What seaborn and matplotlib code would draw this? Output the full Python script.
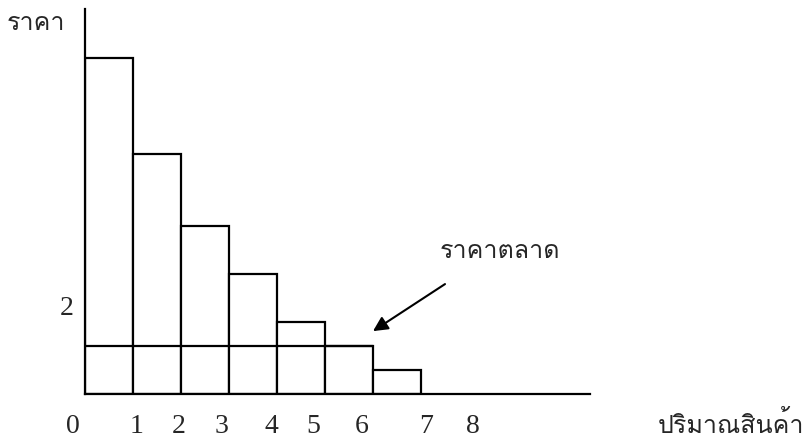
import matplotlib
matplotlib.use("Agg")
import matplotlib.pyplot as plt
from matplotlib import font_manager
from matplotlib.ft2font import FT2Font
import seaborn as sns

# ข้อมูลของกราฟ
bar_mid = [0.5, 1.5, 2.5, 3.5, 4.5, 5.5, 6.5]
bar_price = [14, 10, 7, 5, 3, 2, 1]
market_x = [0, 6]
market_price = [2, 2]
tick_pos = [-0.25, 1.08, 1.96, 2.85, 3.88, 4.75, 5.77, 7.1, 8.08]
tick_labels = ["0", "1", "2", "3", "4", "5", "6", "7", "8"]


def thai_font():
    # หา font ที่มีตัวอักษรไทย
    for f in font_manager.fontManager.ttflist:
        try:
            if ord("ร") in FT2Font(f.fname).get_charmap():
                return f.name
        except Exception:
            pass
    return "DejaVu Sans"


sns.set_theme(style="white")
th = [thai_font(), "DejaVu Sans"]

fig = plt.figure(figsize=(8.08, 4.39), dpi=100)
ax = fig.add_axes([85 / 808, 1 - 395 / 439, 505 / 808, 385 / 439])

sns.barplot(x=bar_mid, y=bar_price, native_scale=True, width=1,
            color="white", saturation=1, edgecolor="black", linewidth=1.6, ax=ax)
sns.lineplot(x=market_x, y=market_price, color="black", linewidth=1.6, ax=ax)

ax.set_xlim(0, 505 / 48)
ax.set_ylim(0, 385 / 24)
ax.set_xticks([])
ax.set_yticks([])
ax.set_xlabel("")
ax.set_ylabel("")
sns.despine(ax=ax)
for s in ["left", "bottom"]:
    ax.spines[s].set_color("black")
    ax.spines[s].set_linewidth(1.6)

# ตัวเลขแกน x
for p, t in zip(tick_pos, tick_labels):
    ax.text(p, -1.3, t, ha="center", va="center", fontsize=20,
            family="Liberation Serif", clip_on=False)
ax.text(-0.38, 3.6, "2", ha="center", va="center", fontsize=20,
        family="Liberation Serif", clip_on=False)

ax.text(-0.42, 15.5, "ราคา", ha="right", va="center", fontsize=18, family=th, clip_on=False)
ax.text(13.45, -1.25, "ปริมาณสินค้า", ha="center", va="center", fontsize=18, family=th,
        clip_on=False)
ax.text(8.65, 6.0, "ราคาตลาด", ha="center", va="center", fontsize=18, family=th)

ax.annotate("", xy=(6.0, 2.62), xytext=(7.5, 4.58),
            arrowprops=dict(arrowstyle="-|>", color="black", lw=1.5, mutation_scale=22,
                            shrinkA=0, shrinkB=0))

plt.savefig("out.png", dpi=100)
plt.close()
